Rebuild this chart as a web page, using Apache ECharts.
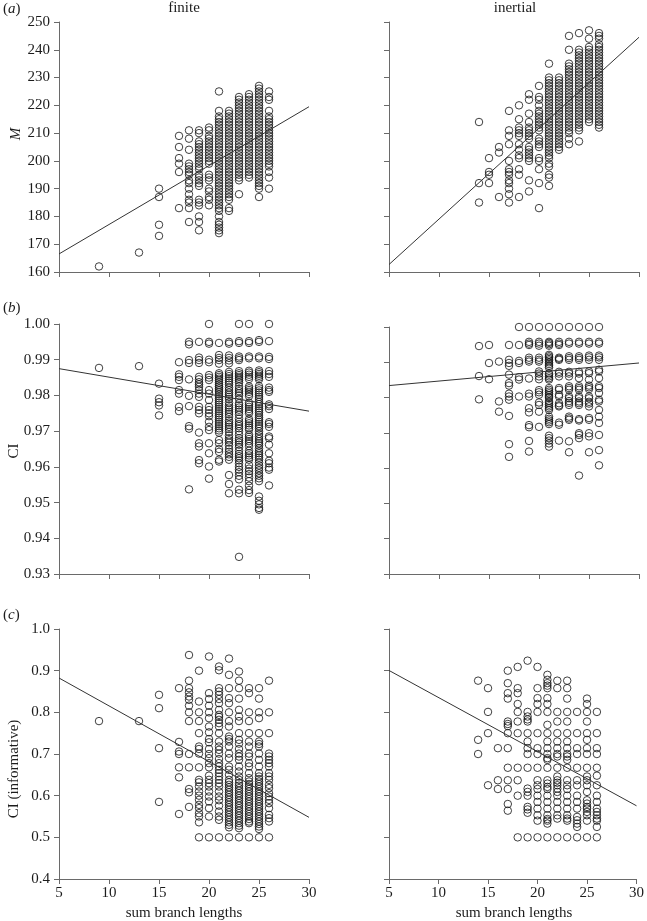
<!DOCTYPE html>
<html><head><meta charset="utf-8">
<script src="https://cdn.jsdelivr.net/npm/echarts@6/dist/echarts.min.js"></script>
<style>html,body{margin:0;padding:0;background:#fff}#c{width:647px;height:921px}</style>
</head><body><div id="c"></div>
<script>
// x columns (sum branch lengths)
const finiteX = [9,13,15,17,18,19,20,21,22,23,24,25,26];
const inertialX = [14,15,16,17,18,19,20,21,22,23,24,25,26];

// (a) M values per column
const finiteM = [
 [162],[167],[190,187,177,173],[209,205,201,199,196,183],
 [211,208,204,199,198,197,196,195,193,192,190,188,186,185,183,178],
 [211,210,207,206,205,204,203,202,201,200,199,198,197,195,194,193,192,191,186,185,184,180,178,175],
 [212,211,209,208,207,206,205,204,203,202,201,200,199,195,194,193,190,189,187,186,184],
 [225,218,216,215,214,213,212,211,210,209,208,207,206,205,204,203,202,201,200,199,198,197,196,195,194,193,192,191,190,189,188,187,186,185,184,183,182,180,178,177,176,175,174],
 [218,217,216,215,214,213,212,211,210,209,208,207,206,205,204,203,202,201,200,199,198,197,196,195,194,193,192,191,190,189,188,187,186,183,182],
 [223,222,221,220,219,218,217,216,215,214,213,212,211,210,209,208,207,206,205,204,203,202,201,200,199,198,197,196,195,194,193,188],
 [224,223,222,221,220,219,218,217,216,215,214,213,212,211,210,209,208,207,206,205,204,203,202,201,200,199,198,197,196,195,194],
 [227,226,225,224,223,222,221,220,219,218,217,216,215,214,213,212,211,210,209,208,207,206,205,204,203,202,201,200,199,198,197,196,195,194,193,192,191,190,187],
 [225,223,222,218,216,215,214,213,212,211,210,209,208,207,206,205,204,203,202,201,200,199,198,196,194,190]
];
const inertialM = [
 [214,192,185],[201,196,195,192],[205,203,187],
 [218,211,209,206,200,197,196,195,193,192,190,188,185],
 [220,215,212,211,210,209,206,204,202,201,197,195,187],
 [224,222,217,214,212,211,210,209,208,205,204,203,202,201,200,193,189],
 [227,223,222,220,218,217,216,215,214,213,212,211,208,207,206,205,201,200,197,192,183],
 [235,230,229,228,227,226,225,224,223,222,221,220,219,218,217,216,215,214,213,212,211,210,209,208,207,206,205,204,203,202,201,199,198,195,194,191],
 [230,229,228,227,226,225,224,223,222,221,220,219,218,217,216,215,214,213,212,211,210,209,208,207,206,205,204],
 [245,240,235,234,233,232,231,230,229,228,227,226,225,224,223,222,221,220,219,218,217,216,215,214,213,212,211,210,208,206],
 [246,240,239,238,237,236,235,234,233,232,231,230,229,228,227,226,225,224,223,222,221,220,219,218,217,216,215,214,213,212,211,207],
 [247,244,241,240,239,238,237,236,235,234,233,232,231,230,229,228,227,226,225,224,223,222,221,220,219,218,217,216,215,214],
 [246,245,244,242,241,240,239,238,237,236,235,234,233,232,231,230,229,228,227,226,225,224,223,222,221,220,219,218,217,216,215,214,213,212]
];

// (b) CI values per column
const finiteCI = [
 [0.9877],[0.9882],[0.9833,0.9791,0.9781,0.9772,0.9744],
 [0.9893,0.9859,0.9852,0.9843,0.9815,0.9805,0.9768,0.9756],
 [0.995,0.9943,0.9899,0.9891,0.9845,0.9799,0.977,0.9714,0.9707,0.9537],
 [0.995,0.9906,0.9899,0.9891,0.9852,0.9845,0.9837,0.9831,0.9824,0.9815,0.9805,0.9796,0.9768,0.9759,0.975,0.9696,0.9666,0.9657,0.9619,0.961],
 [1.0,0.995,0.9945,0.990,0.9893,0.9857,0.985,0.9843,0.9815,0.9805,0.9787,0.9768,0.9759,0.975,0.9742,0.9726,0.9712,0.9703,0.9666,0.9638,0.9601,0.9567],
 [0.9947,0.9913,0.9905,0.9899,0.9889,0.9862,0.9857,0.9852,0.9847,0.9842,0.9836,0.983,0.9825,0.982,0.9815,0.981,0.9804,0.9798,0.9792,0.9786,0.978,0.9774,0.9768,0.9762,0.9756,0.975,0.9744,0.9738,0.9732,0.9726,0.972,0.9714,0.9708,0.9702,0.9696,0.9675,0.9666,0.965,0.9642,0.962,0.9615],
 [0.995,0.9945,0.9912,0.9905,0.9898,0.989,0.9866,0.986,0.9854,0.9848,0.9842,0.9836,0.983,0.9822,0.9815,0.9808,0.9802,0.9796,0.979,0.978,0.9772,0.9766,0.976,0.9754,0.9748,0.974,0.973,0.9724,0.9718,0.9712,0.9706,0.9698,0.9688,0.968,0.9674,0.9668,0.966,0.965,0.9642,0.9635,0.9628,0.962,0.9577,0.9552,0.9526],
 [1.0,0.9952,0.9947,0.9909,0.9904,0.9899,0.9868,0.9862,0.9857,0.9852,0.9847,0.9842,0.9836,0.9826,0.9818,0.9812,0.9806,0.98,0.979,0.9778,0.9772,0.9766,0.976,0.9754,0.9746,0.9735,0.9726,0.972,0.9714,0.9708,0.97,0.969,0.968,0.9674,0.9668,0.9662,0.9655,0.9645,0.9636,0.963,0.9624,0.9618,0.961,0.96,0.9592,0.9585,0.9575,0.9565,0.9536,0.9526,0.9348],
 [1.0,0.9952,0.9947,0.9909,0.9904,0.9869,0.9864,0.9858,0.9852,0.9846,0.9825,0.982,0.9815,0.981,0.9804,0.9798,0.978,0.9774,0.9768,0.9762,0.9756,0.975,0.9734,0.9728,0.9722,0.9716,0.971,0.9704,0.969,0.9684,0.9678,0.9672,0.9666,0.9658,0.9645,0.9638,0.9632,0.9626,0.962,0.9605,0.9595,0.9588,0.958,0.957,0.956,0.9547,0.9535,0.9527],
 [0.9955,0.995,0.9909,0.9904,0.987,0.9865,0.986,0.9855,0.985,0.9845,0.9826,0.982,0.9814,0.9808,0.9802,0.9796,0.979,0.9782,0.9776,0.977,0.9764,0.9758,0.9752,0.9745,0.9738,0.9732,0.9726,0.972,0.9714,0.9708,0.97,0.9692,0.9685,0.9678,0.9672,0.9666,0.966,0.9652,0.9644,0.9638,0.9632,0.9626,0.962,0.9612,0.9604,0.9597,0.959,0.9582,0.9575,0.9568,0.956,0.9517,0.9505,0.9495,0.9485,0.948],
 [1.0,0.9952,0.9908,0.9902,0.9868,0.986,0.9852,0.9822,0.9815,0.981,0.9775,0.977,0.9762,0.9725,0.972,0.9712,0.9685,0.968,0.9662,0.9638,0.9617,0.961,0.9598,0.9592,0.9548]
];
const inertialCI = [
 [0.9946,0.9861,0.9795],[0.9949,0.9898,0.9852],[0.9902,0.9789,0.976],
 [0.9949,0.9907,0.9898,0.989,0.9865,0.9841,0.9834,0.9811,0.9803,0.9794,0.9748,0.9668,0.9632],
 [1.0,0.9949,0.9904,0.9898,0.9858,0.9851,0.9803],
 [1.0,0.9958,0.9953,0.9949,0.9913,0.9907,0.9902,0.9854,0.9811,0.9803,0.977,0.9758,0.9722,0.9716,0.9677,0.9647],
 [1.0,0.9958,0.9953,0.9947,0.9913,0.9907,0.9902,0.9874,0.9868,0.986,0.9852,0.9821,0.9815,0.9808,0.9786,0.9779,0.976,0.9717],
 [1.0,0.9958,0.9955,0.9951,0.9947,0.9921,0.9917,0.9913,0.9909,0.9905,0.99,0.9895,0.989,0.9885,0.9869,0.9865,0.986,0.9855,0.9851,0.9827,0.9822,0.9817,0.9812,0.9807,0.9802,0.9799,0.979,0.9785,0.978,0.9775,0.977,0.9765,0.9746,0.974,0.9735,0.973,0.9725,0.9692,0.9685,0.9678,0.967,0.9661],
 [1.0,0.9958,0.9953,0.9949,0.9913,0.991,0.9907,0.9873,0.9868,0.986,0.9827,0.9822,0.9808,0.9803,0.9784,0.9778,0.9775,0.9729,0.9723,0.9678],
 [1.0,0.9958,0.9953,0.9917,0.9912,0.9907,0.9873,0.9868,0.986,0.9832,0.9827,0.9822,0.9803,0.9798,0.979,0.9785,0.9779,0.9746,0.9741,0.9737,0.9676,0.9645],
 [1.0,0.9958,0.9953,0.9917,0.9912,0.9907,0.9873,0.9868,0.9855,0.9832,0.9827,0.9822,0.9803,0.9798,0.9789,0.9784,0.9779,0.9739,0.9735,0.9699,0.9694,0.9685,0.9579],
 [1.0,0.9958,0.9953,0.9919,0.9914,0.9907,0.9874,0.9869,0.9851,0.9834,0.9829,0.9824,0.9803,0.9798,0.9788,0.9783,0.9775,0.9742,0.9737,0.9699,0.969,0.9645],
 [1.0,0.9958,0.9953,0.9919,0.9914,0.9907,0.9879,0.9874,0.9855,0.9832,0.9827,0.9813,0.9794,0.9789,0.9765,0.9746,0.9728,0.9694,0.9651,0.9608]
];

// (c) CI (informative) values per column
const finiteCIinf = [
 [0.779],[0.779],[0.842,0.810,0.714,0.585],
 [0.858,0.729,0.706,0.700,0.668,0.644,0.556],
 [0.9376,0.876,0.858,0.848,0.838,0.830,0.816,0.80,0.779,0.70,0.668,0.616,0.608,0.573],
 [0.90,0.826,0.80,0.779,0.75,0.718,0.712,0.701,0.668,0.638,0.632,0.622,0.61,0.60,0.59,0.578,0.57,0.558,0.55,0.536,0.50],
 [0.934,0.846,0.832,0.816,0.80,0.786,0.766,0.752,0.736,0.728,0.712,0.70,0.69,0.678,0.668,0.648,0.638,0.63,0.622,0.61,0.598,0.586,0.57,0.55,0.50],
 [0.910,0.901,0.858,0.850,0.842,0.832,0.822,0.806,0.794,0.789,0.782,0.774,0.766,0.75,0.73,0.718,0.71,0.701,0.688,0.678,0.67,0.662,0.654,0.646,0.638,0.63,0.622,0.61,0.598,0.589,0.576,0.562,0.55,0.542,0.50],
 [0.929,0.89,0.858,0.834,0.822,0.80,0.779,0.766,0.742,0.736,0.73,0.718,0.701,0.69,0.67,0.662,0.65,0.638,0.632,0.626,0.62,0.614,0.608,0.602,0.596,0.59,0.584,0.578,0.572,0.566,0.56,0.554,0.548,0.542,0.536,0.53,0.524,0.50],
 [0.898,0.876,0.858,0.833,0.806,0.79,0.779,0.75,0.734,0.725,0.712,0.701,0.694,0.686,0.67,0.658,0.646,0.638,0.63,0.624,0.618,0.612,0.606,0.60,0.594,0.588,0.582,0.576,0.57,0.564,0.558,0.552,0.546,0.54,0.534,0.528,0.522,0.50],
 [0.858,0.846,0.80,0.779,0.75,0.73,0.718,0.701,0.694,0.678,0.67,0.654,0.642,0.634,0.628,0.622,0.616,0.61,0.604,0.598,0.592,0.586,0.58,0.574,0.568,0.562,0.556,0.55,0.544,0.538,0.534,0.50],
 [0.858,0.833,0.80,0.786,0.75,0.73,0.724,0.718,0.701,0.686,0.67,0.654,0.646,0.64,0.634,0.628,0.622,0.616,0.61,0.604,0.598,0.592,0.586,0.58,0.574,0.568,0.562,0.556,0.55,0.544,0.538,0.532,0.526,0.52,0.50],
 [0.876,0.80,0.75,0.701,0.694,0.686,0.678,0.67,0.654,0.646,0.638,0.626,0.618,0.606,0.598,0.59,0.582,0.57,0.554,0.546,0.538,0.50]
];
const inertialCIinf = [
 [0.876,0.734,0.70],[0.858,0.801,0.75,0.625],[0.714,0.637,0.616],
 [0.90,0.87,0.846,0.833,0.778,0.772,0.767,0.75,0.714,0.667,0.637,0.616,0.58,0.564],
 [0.909,0.858,0.846,0.82,0.801,0.778,0.75,0.667,0.637,0.60,0.50],
 [0.924,0.801,0.79,0.783,0.778,0.75,0.73,0.714,0.70,0.667,0.617,0.609,0.60,0.573,0.567,0.559,0.50],
 [0.909,0.858,0.834,0.82,0.801,0.75,0.714,0.70,0.667,0.637,0.625,0.616,0.60,0.585,0.569,0.553,0.54,0.50],
 [0.89,0.878,0.87,0.864,0.858,0.834,0.82,0.801,0.77,0.75,0.73,0.714,0.70,0.69,0.686,0.667,0.637,0.629,0.621,0.616,0.60,0.585,0.569,0.553,0.544,0.54,0.533,0.50],
 [0.876,0.858,0.801,0.778,0.75,0.73,0.714,0.70,0.694,0.667,0.646,0.637,0.631,0.625,0.617,0.609,0.60,0.585,0.569,0.553,0.545,0.50],
 [0.876,0.858,0.833,0.801,0.778,0.75,0.73,0.714,0.70,0.694,0.686,0.667,0.637,0.625,0.616,0.60,0.585,0.569,0.553,0.545,0.54,0.50],
 [0.801,0.75,0.714,0.70,0.667,0.637,0.625,0.60,0.585,0.569,0.549,0.541,0.533,0.525,0.50],
 [0.833,0.82,0.801,0.778,0.75,0.734,0.714,0.70,0.667,0.646,0.637,0.625,0.609,0.589,0.581,0.573,0.569,0.561,0.553,0.54,0.50],
 [0.801,0.75,0.714,0.70,0.667,0.648,0.625,0.60,0.585,0.569,0.561,0.553,0.545,0.54,0.525,0.50]
];

// regression lines: value at x = 5 and x = 30
const lineX = [5, 30];
const lineFiniteM = [166.5, 219.5];
const lineInertialM = [162.7, 244.5];
const lineFiniteCI = [0.9875, 0.9756];
const lineInertialCI = [0.9834, 0.9898];
const lineFiniteCIinf = [0.8824, 0.548];
const lineInertialCIinf = [0.9005, 0.5757];

// axis settings
const xTicks = {min: 5, max: 30, interval: 5};
const yRanges = [
  {min: 160, max: 250, interval: 10, dec: 0},
  {min: 0.93, max: 1.0, interval: 0.01, dec: 2},
  {min: 0.4, max: 1.0, interval: 0.1, dec: 1}
];
const columnTitles = ['finite', 'inertial'];
const yNames = ['M', 'CI', 'CI (informative)'];
const xName = 'sum branch lengths';

const font = "'Liberation Serif','DejaVu Serif',serif";
const axisColor = '#6a6a6a';
const txtColor = '#1c1c1c';

const grids = [
  {left: 59, top: 22, width: 250, height: 250},
  {left: 389, top: 22, width: 250, height: 250},
  {left: 59, top: 324, width: 250, height: 250},
  {left: 389, top: 327, width: 250, height: 247},
  {left: 59, top: 629, width: 250, height: 250},
  {left: 389, top: 629, width: 250, height: 250}
];
const panels = [
  {xs: finiteX, ys: finiteM, line: lineFiniteM},
  {xs: inertialX, ys: inertialM, line: lineInertialM},
  {xs: finiteX, ys: finiteCI, line: lineFiniteCI},
  {xs: inertialX, ys: inertialCI, line: lineInertialCI},
  {xs: finiteX, ys: finiteCIinf, line: lineFiniteCIinf},
  {xs: inertialX, ys: inertialCIinf, line: lineInertialCIinf}
];

const xAxes = [], yAxes = [], series = [];
panels.forEach((p, i) => {
  const row = Math.floor(i / 2), col = i % 2;
  const yr = yRanges[row];
  xAxes.push({
    gridIndex: i, type: 'value', min: xTicks.min, max: xTicks.max, interval: xTicks.interval,
    splitLine: {show: false},
    axisLine: {onZero: false, lineStyle: {color: axisColor, width: 1}},
    axisTick: {show: true, inside: false, length: 5, lineStyle: {color: axisColor}},
    axisLabel: {show: row === 2, color: txtColor, fontFamily: font, fontSize: 15, margin: 7}
  });
  yAxes.push({
    gridIndex: i, type: 'value', min: yr.min, max: yr.max, interval: yr.interval,
    splitLine: {show: false},
    axisLine: {show: true, onZero: false, lineStyle: {color: axisColor, width: 1}},
    axisTick: {show: true, inside: false, length: 5, lineStyle: {color: axisColor}},
    axisLabel: {show: col === 0, color: txtColor, fontFamily: font, fontSize: 15, margin: 9,
      formatter: v => Number(v).toFixed(yr.dec)}
  });
  const pts = [];
  p.xs.forEach((x, k) => p.ys[k].forEach(y => pts.push([x, y])));
  series.push({
    type: 'scatter', xAxisIndex: i, yAxisIndex: i, data: pts, symbol: 'circle', symbolSize: 7.5,
    itemStyle: {color: 'rgba(0,0,0,0)', borderColor: '#111', borderWidth: 1},
    silent: true, animation: false
  });
  series.push({
    type: 'line', xAxisIndex: i, yAxisIndex: i, symbol: 'none',
    data: [[lineX[0], p.line[0]], [lineX[1], p.line[1]]],
    lineStyle: {color: '#333', width: 1}, silent: true, animation: false
  });
});

const textStyle = (extra) => Object.assign({fill: txtColor, font: '15px ' + font}, extra);
const richI = {i: {fontStyle: 'italic', fontFamily: font, fontSize: 15, fill: txtColor}};
const graphic = [
  {type: 'text', x: 184, y: 1, style: textStyle({text: columnTitles[0], font: '15px ' + font, textAlign: 'center'})},
  {type: 'text', x: 515, y: 1, style: textStyle({text: columnTitles[1], font: '15px ' + font, textAlign: 'center'})},
  {type: 'text', x: 3, y: 2, style: textStyle({text: '({i|a})', rich: richI})},
  {type: 'text', x: 3, y: 301, style: textStyle({text: '({i|b})', rich: richI})},
  {type: 'text', x: 3, y: 608, style: textStyle({text: '({i|c})', rich: richI})},
  {type: 'text', x: 16, y: 134, rotation: Math.PI / 2, style: textStyle({text: yNames[0], font: 'italic 15px ' + font, textAlign: 'center', textVerticalAlign: 'middle'})},
  {type: 'text', x: 14, y: 451, rotation: Math.PI / 2, style: textStyle({text: yNames[1], font: '15px ' + font, textAlign: 'center', textVerticalAlign: 'middle'})},
  {type: 'text', x: 14, y: 769, rotation: Math.PI / 2, style: textStyle({text: yNames[2], font: '15px ' + font, textAlign: 'center', textVerticalAlign: 'middle'})},
  {type: 'text', x: 184, y: 913, style: textStyle({text: xName, font: '15px ' + font, textAlign: 'center', textVerticalAlign: 'middle'})},
  {type: 'text', x: 514, y: 913, style: textStyle({text: xName, font: '15px ' + font, textAlign: 'center', textVerticalAlign: 'middle'})}
];

const chart = echarts.init(document.getElementById('c'), null, {renderer: 'canvas'});
chart.setOption({
  animation: false,
  grid: grids.map(g => Object.assign({containLabel: false}, g)),
  xAxis: xAxes, yAxis: yAxes, series: series,
  graphic: graphic
});
</script></body></html>
